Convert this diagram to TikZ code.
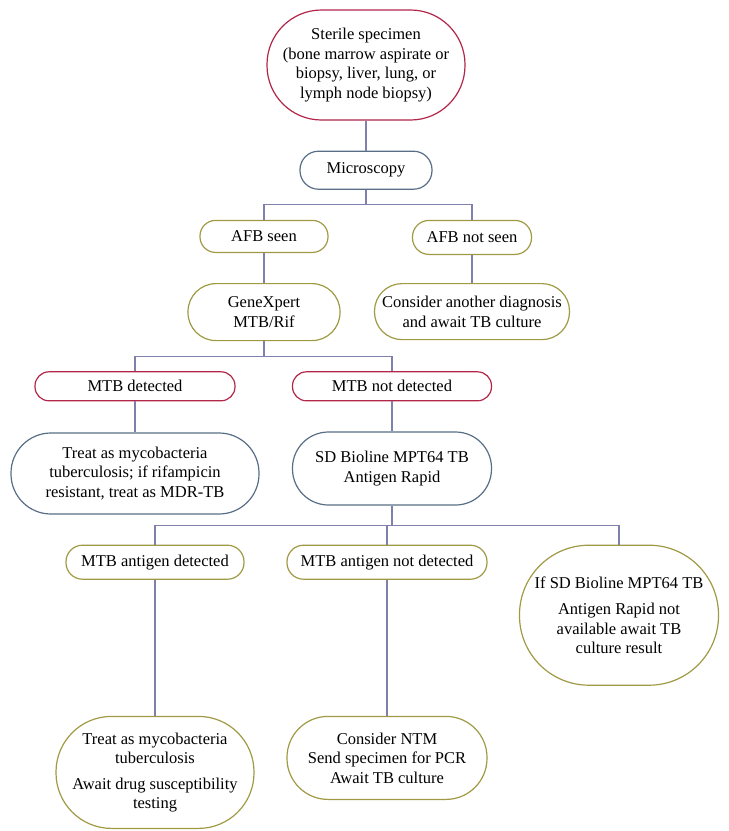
\documentclass[tikz,border=0pt]{standalone}
\usepackage{fontspec}
\setmainfont{Liberation Serif}
\usetikzlibrary{positioning}
\definecolor{boxred}{RGB}{178,38,74}
\definecolor{boxblue}{RGB}{88,110,134}
\definecolor{boxgreen}{RGB}{160,154,68}
\definecolor{linkblue}{RGB}{128,128,172}

\begin{document}
\begin{tikzpicture}
    \tikzset{
        node distance=30pt, % gap between levels
        flow/.style={draw, line width=1.2pt, fill=white, align=center, inner sep=2pt, font=\fontsize{16.5}{19.5}\selectfont}, % common look of the boxes
        pill/.style 2 args={minimum width=#1pt, minimum height=#2pt, rounded corners=#2pt/2-0.5pt}, % box size, round ends
        redbox/.style={flow, draw=boxred},
        bluebox/.style={flow, draw=boxblue},
        greenbox/.style={flow, draw=boxgreen},
        link/.style={draw=linkblue, line width=1.2pt}, % connectors
    }
    \useasboundingbox (0,0) rectangle (729pt,-831pt);

    \node[redbox, pill={198}{110}] (spec) at (366pt,-65pt) {Sterile specimen\\(bone marrow aspirate or\\biopsy, liver, lung, or\\lymph node biopsy)};
    \node[bluebox, pill={132}{38}, below=of spec] (micro) {Microscopy};

    \node[greenbox, pill={128}{32}, below=of micro, xshift=-102pt] (afb) {AFB seen};
    \node[greenbox, pill={119}{34}, below=of micro, xshift=106pt] (noafb) {AFB not seen};
    \node[greenbox, pill={152}{57}, below=of afb] (gx) {GeneXpert\\MTB/Rif};
    \node[greenbox, pill={195}{56}, below=28pt of noafb] (other) {Consider another diagnosis\\and await TB culture};

    \node[redbox, pill={200}{29}, below=of gx, xshift=-129pt] (mtbd) {MTB detected};
    \node[redbox, pill={199}{29}, below=of gx, xshift=128pt] (mtbn) {MTB not detected};
    \node[bluebox, pill={248}{81}, below=31pt of mtbd] (mdr) {Treat as mycobacteria\\tuberculosis; if rifampicin\\resistant, treat as MDR-TB};
    \node[bluebox, pill={199}{73}, below=of mtbn] (sdb) {SD Bioline MPT64 TB\\Antigen Rapid};

    \node[greenbox, pill={178}{34}, below=39pt of sdb, xshift=-237pt] (agd) {MTB antigen detected};
    \node[greenbox, pill={200}{34}, below=39pt of sdb, xshift=-5pt] (agn) {MTB antigen not detected};
    \node[greenbox, pill={199}{140}, below=39pt of sdb, xshift=227pt] (notav) {If SD Bioline MPT64 TB\\[7pt]Antigen Rapid not\\available await TB\\culture result};
    \node[greenbox, pill={198}{112}, below=136pt of agd] (treat) {Treat as mycobacteria\\tuberculosis\\[6pt]Await drug susceptibility\\testing};
    \node[greenbox, pill={200}{83}, below=136pt of agn] (ntm) {Consider NTM\\Send specimen for PCR\\Await TB culture};

    \draw[link] (spec) -- (micro);
    \draw[link] (micro.south) -- ++(0,-15pt) coordinate (j1);
    \draw[link] (afb.north) |- (j1) -| (noafb.north);
    \draw[link] (afb) -- (gx);
    \draw[link] (noafb) -- (other);
    \draw[link] (gx.south) -- ++(0,-15pt) coordinate (j2);
    \draw[link] (mtbd.north) |- (j2) -| (mtbn.north);
    \draw[link] (mtbd) -- (mdr);
    \draw[link] (mtbn) -- (sdb);
    \draw[link] (sdb.south) -- ++(0,-20pt) coordinate (j3);
    \draw[link] (agd.north) |- (j3) -| (notav.north);
    \draw[link] (agn.north) -- (agn.north |- j3);
    \draw[link] (agd) -- (treat);
    \draw[link] (agn) -- (ntm);
\end{tikzpicture}
\end{document}
